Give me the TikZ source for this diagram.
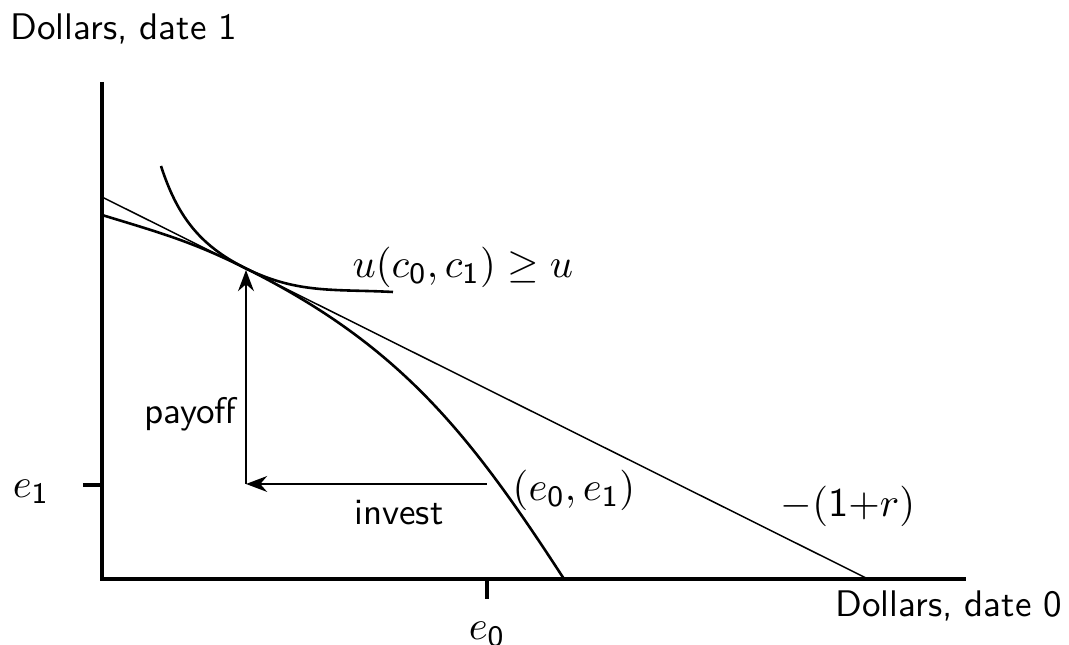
\documentclass[tikz,border=0pt]{standalone}
\usepackage{amsmath}
\usetikzlibrary{arrows.meta}

\begin{document}
\begin{tikzpicture}[x=0.27pt, y=0.27pt, >=Stealth,
    axis/.style={line width=0.85pt},
    curve/.style={line width=0.7pt},
    budget/.style={line width=0.4pt},
    move/.style={line width=0.6pt, ->},
    lbl/.style={font=\sffamily, inner sep=0pt},
    mth/.style={font=\fontsize{11}{13}\selectfont, inner sep=0pt}]
  \useasboundingbox (0,0) rectangle (1069,645);

  % Axes and ticks
  \coordinate (O) at (102,66);
  \coordinate (ytop) at (102,563);
  \coordinate (xend) at (966,66);
  \draw[axis] (ytop) -- (O) -- (xend);
  \coordinate (t1a) at (83,160);
  \coordinate (t1b) at (102,160);
  \coordinate (t0a) at (487,66);
  \coordinate (t0b) at (487,46);
  \draw[axis] (t1a) -- (t1b);
  \draw[axis] (t0a) -- (t0b);

  % Market line, frontier, indifference curve
  \coordinate (T) at (245,377);
  \coordinate (m0) at (102,448);
  \coordinate (m1) at (868,66);
  \draw[budget] (m0) -- (m1);
  \coordinate (f0) at (102,430);
  \coordinate (f1) at (564,66);
  \draw[curve] (f0) to[out=-17, in=153.5] (T) to[out=-26.5, in=123] (f1);
  \coordinate (u0) at (161,479);
  \coordinate (u1) at (393,353);
  \draw[curve] (u0) to[out=-72, in=153.5] (T) to[out=-26.5, in=177] (u1);

  % Investment and payoff
  \coordinate (E) at (487,161);
  \coordinate (C) at (246,161);
  \coordinate (P) at (246,375);
  \draw[move] (E) -- (C);
  \draw[move] (C) -- (P);

  % Labels
  \node[lbl] (ylab) at (124,616) {Dollars, date 1};
  \node[lbl] (xlab) at (949,39) {Dollars, date 0};
  \node[lbl, anchor=east] (pay) at (237,231) {payoff};
  \node[lbl] (inv) at (399,132) {invest};
  \node[mth, anchor=west] (util) at (352,378)
    {$u(c_{\mathsf{0}},c_{\mathsf{1}})\geq u$};
  \node[mth] (endow) at (574,155) {$(e_{\mathsf{0}},e_{\mathsf{1}})$};
  \node[mth] (rate) at (848,139) {$-(\mathsf{1}{+}r)$};
  \node[mth] (e1) at (31,153) {$e_{\mathsf{1}}$};
  \node[mth, anchor=base] (e0) at (487,5) {$e_{\mathsf{0}}$};
\end{tikzpicture}
\end{document}
